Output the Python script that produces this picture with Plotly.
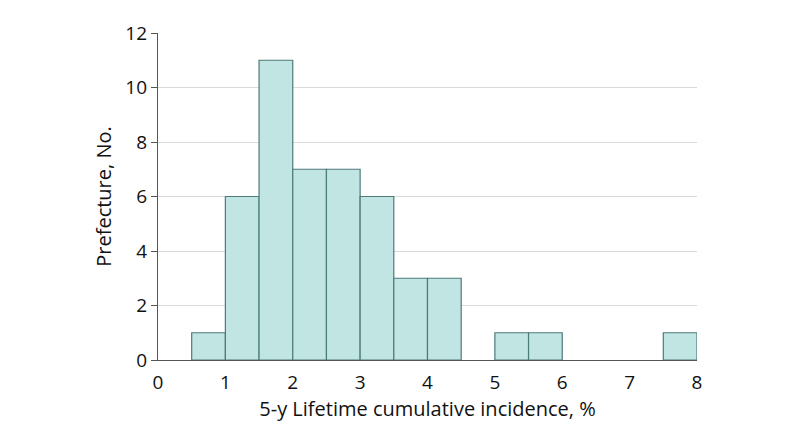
import plotly.graph_objects as go

bin_starts = [0.5, 1.0, 1.5, 2.0, 2.5, 3.0, 3.5, 4.0, 4.5, 5.0, 5.5, 6.0, 6.5, 7.0, 7.5]
counts = [1, 6, 11, 7, 7, 6, 3, 3, 0, 1, 1, 0, 0, 0, 1]
bin_width = 0.5
x_ticks = [0, 1, 2, 3, 4, 5, 6, 7, 8]
y_ticks = [0, 2, 4, 6, 8, 10, 12]

fig = go.Figure(go.Bar(
    x=[s + bin_width / 2 for s, c in zip(bin_starts, counts) if c > 0],
    y=[c for c in counts if c > 0],
    width=bin_width,
    marker=dict(color="#c1e5e3", line=dict(color="#4d7b79", width=1.2)),
))

font = "Open Sans, Noto Sans, sans-serif"
fig.update_layout(
    width=794, height=441,
    margin=dict(l=150, r=105, t=22, b=89),
    plot_bgcolor="white", paper_bgcolor="white",
    showlegend=False,
    font=dict(family=font, size=19, color="#111"),
    xaxis=dict(
        range=[0, 8], tickvals=x_ticks, showgrid=False, zeroline=False,
        showline=True, linecolor="#555", linewidth=1.2, ticks="",
        tickfont=dict(size=19), ticklabelstandoff=5,
        title=dict(text="5-y Lifetime cumulative incidence, %", font=dict(size=20), standoff=8),
    ),
    yaxis=dict(
        range=[0, 12], tickvals=y_ticks, showgrid=True, gridcolor="#d9d9d9", gridwidth=1,
        zeroline=False, showline=True, linecolor="#555", linewidth=1.2,
        ticks="outside", ticklen=6, tickcolor="#555",
        tickfont=dict(size=19),
        title=dict(text="Prefecture, No.", font=dict(size=20), standoff=8),
    ),
)
fig.write_html("out.html")
